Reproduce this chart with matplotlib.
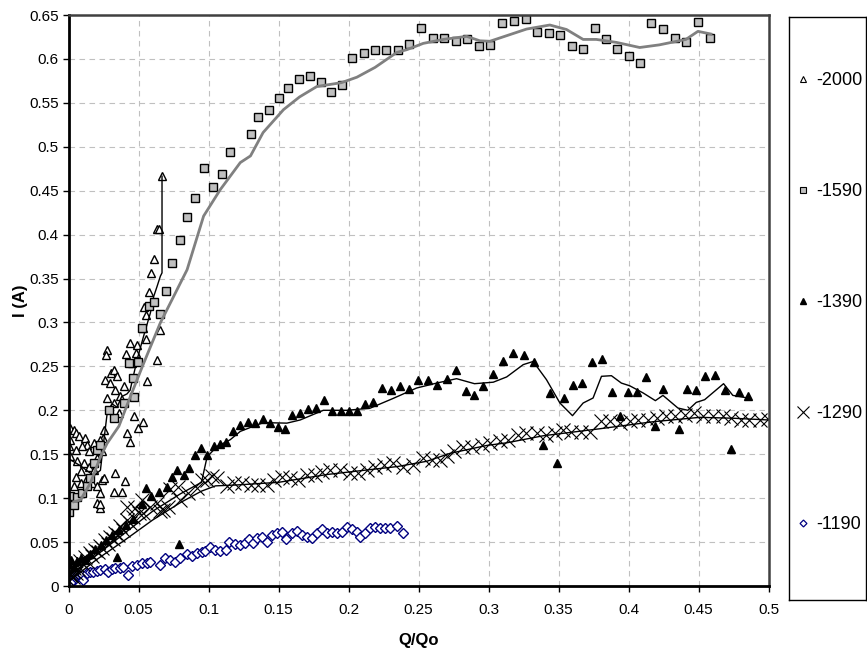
import matplotlib
matplotlib.use("Agg")
import matplotlib.pyplot as plt
from matplotlib.lines import Line2D

plt.rcParams['font.family'] = ['Liberation Sans', 'DejaVu Sans']

# ---------------- data ----------------
# -2000 : open triangles + thin black line
x_2000 = [0.0668, 0.0633, 0.0647, 0.0609, 0.059, 0.0573, 0.0537, 0.055, 0.0533, 0.0556,
          0.0633, 0.0656, 0.0561, 0.049, 0.0442, 0.0414, 0.0454, 0.0483, 0.0276, 0.0269,
          0.030, 0.0323, 0.0347, 0.026, 0.0295, 0.0335, 0.0395, 0.0371, 0.0276, 0.0323,
          0.0359, 0.0466, 0.0533, 0.0494, 0.0418, 0.0442, 0.0335, 0.0407, 0.0323, 0.0383,
          0.0228, 0.020, 0.0228, 0.0223, 0.0252, 0.0247, 0.0228, 0.0014, 0.0038, 0.005,
          0.0014, 0.0074, 0.0121, 0.0133, 0.0098, 0.005, 0.0002, 0.0014, 0.0062, 0.011,
          0.0145, 0.018, 0.0086, 0.005, 0.0133, 0.0169, 0.0086, 0.0038, 0.0205, 0.024,
          0.0205, 0.018, 0.0145, 0.024, 0.0252]
y_2000 = [0.4665, 0.4066, 0.4066, 0.3723, 0.356, 0.3345, 0.3178, 0.3084, 0.2938, 0.2812,
          0.2577, 0.2918, 0.233, 0.2748, 0.2767, 0.2645, 0.254, 0.2653, 0.2689, 0.2634,
          0.2423, 0.2464, 0.2387, 0.235, 0.231, 0.2235, 0.2272, 0.2159, 0.214, 0.2083,
          0.1969, 0.1931, 0.1863, 0.1798, 0.1741, 0.1634, 0.1291, 0.119, 0.1071, 0.1068,
          0.1057, 0.095, 0.0886, 0.0938, 0.1778, 0.1686, 0.1665, 0.1798, 0.1778, 0.1741,
          0.1665, 0.1703, 0.1686, 0.1604, 0.1589, 0.1553, 0.1589, 0.1475, 0.142, 0.1399,
          0.1358, 0.1322, 0.1304, 0.1245, 0.1225, 0.117, 0.117, 0.1133, 0.1133, 0.1208,
          0.1455, 0.1627, 0.1532, 0.1532, 0.1225]
xl_2000 = [0.0, 0.0086, 0.018, 0.0228, 0.025, 0.0276, 0.031, 0.0347, 0.038, 0.0418, 0.044,
           0.049, 0.0537, 0.0585, 0.0609, 0.0633, 0.0656, 0.0668, 0.0668]
yl_2000 = [0.145, 0.1368, 0.1256, 0.1317, 0.1624, 0.1962, 0.2075, 0.2034, 0.2157, 0.2187,
           0.2228, 0.2577, 0.2847, 0.3109, 0.3298, 0.3412, 0.3526, 0.3565, 0.4665]

# -1590 : grey squares + grey line
x_1590 = [0.0002, 0.0014, 0.0038, 0.0062, 0.0098, 0.0133, 0.0157, 0.018, 0.0205, 0.0228,
          0.0323, 0.0288, 0.0395, 0.0466, 0.0461, 0.043, 0.0494, 0.0528, 0.0573, 0.0613,
          0.0656, 0.0699, 0.0742, 0.0794, 0.0849, 0.0906, 0.103, 0.1094, 0.097, 0.1155,
          0.130, 0.1357, 0.1429, 0.150, 0.157, 0.1648, 0.1726, 0.180, 0.1876, 0.195,
          0.2028, 0.211, 0.219, 0.227, 0.235, 0.243, 0.2515, 0.260, 0.2684, 0.2767,
          0.2848, 0.293, 0.301, 0.3098, 0.318, 0.3267, 0.3347, 0.3433, 0.3514, 0.3597,
          0.3676, 0.376, 0.3837, 0.392, 0.400, 0.408, 0.4163, 0.4246, 0.433, 0.441,
          0.4496, 0.458]
y_1590 = [0.0846, 0.102, 0.0924, 0.1018, 0.1057, 0.1133, 0.1225, 0.1399, 0.155, 0.1604,
          0.1908, 0.2003, 0.2083, 0.2157, 0.2369, 0.254, 0.255, 0.2935, 0.319, 0.3232,
          0.3099, 0.3355, 0.368, 0.3938, 0.42, 0.442, 0.4543, 0.4686, 0.4763, 0.494,
          0.5147, 0.5341, 0.5423, 0.5556, 0.567, 0.5766, 0.5802, 0.5736, 0.5628, 0.570,
          0.6007, 0.6073, 0.6099, 0.6099, 0.6099, 0.617, 0.635, 0.6243, 0.6237, 0.620,
          0.6222, 0.615, 0.616, 0.641, 0.6437, 0.6457, 0.6309, 0.629, 0.6268, 0.6146,
          0.6109, 0.6348, 0.6232, 0.6115, 0.6037, 0.5952, 0.6406, 0.6335, 0.6243, 0.6191,
          0.6416, 0.6243]
xl_1590 = [0.0038, 0.0086, 0.0157, 0.0228, 0.0276, 0.036, 0.0442, 0.0537, 0.0656, 0.0763,
           0.0847, 0.0965, 0.1084, 0.1227, 0.130, 0.139, 0.1536, 0.165, 0.1774, 0.195,
           0.206, 0.219, 0.2344, 0.2416, 0.2534, 0.2677, 0.2844, 0.2939, 0.301, 0.3272,
           0.3438, 0.3557, 0.3676, 0.377, 0.3914, 0.408, 0.422, 0.441, 0.4496, 0.459]
yl_1590 = [0.0959, 0.098, 0.1174, 0.147, 0.1624, 0.1819, 0.2157, 0.2536, 0.2996, 0.3334,
           0.36, 0.4211, 0.4512, 0.482, 0.4896, 0.5162, 0.5423, 0.5567, 0.5686, 0.573,
           0.5792, 0.5904, 0.6073, 0.6105, 0.6177, 0.6222, 0.6257, 0.6206, 0.6201, 0.634,
           0.6386, 0.6335, 0.6222, 0.6222, 0.6188, 0.613, 0.616, 0.6222, 0.6314, 0.6283]

# -1390 : filled triangles + thin black line
x_1390 = [0.0, 0.002, 0.004, 0.006, 0.009, 0.012, 0.015, 0.019, 0.023, 0.027,
          0.031, 0.036, 0.041, 0.046, 0.0349, 0.0789, 0.0523, 0.0556, 0.059, 0.0644,
          0.0704, 0.074, 0.0775, 0.0827, 0.0858, 0.0906, 0.0947, 0.099, 0.1036, 0.1084,
          0.1127, 0.1175, 0.1227, 0.1279, 0.1332, 0.1386, 0.1441, 0.1493, 0.1548, 0.1598,
          0.1655, 0.1712, 0.1769, 0.1828, 0.1885, 0.1945, 0.200, 0.206, 0.2118, 0.2178,
          0.224, 0.2304, 0.2368, 0.243, 0.2499, 0.2566, 0.263, 0.270, 0.2767, 0.2839,
          0.2898, 0.2962, 0.303, 0.310, 0.3172, 0.3252, 0.3324, 0.3386, 0.3438, 0.349,
          0.354, 0.3604, 0.3668, 0.3738, 0.381, 0.388, 0.3937, 0.3997, 0.4063, 0.4128,
          0.4187, 0.4246, 0.436, 0.4417, 0.448, 0.4544, 0.4615, 0.4686, 0.4734, 0.4788,
          0.4852]
y_1390 = [0.025, 0.03, 0.022, 0.028, 0.032, 0.03, 0.036, 0.042, 0.047, 0.052,
          0.058, 0.064, 0.07, 0.076, 0.0327, 0.0475, 0.0935, 0.1114, 0.1026, 0.1068,
          0.1126, 0.124, 0.1322, 0.1262, 0.1342, 0.1491, 0.157, 0.1491, 0.1594, 0.1614,
          0.1634, 0.1768, 0.1836, 0.1866, 0.1855, 0.1901, 0.1855, 0.1809, 0.1787, 0.1946,
          0.1975, 0.2013, 0.2026, 0.2113, 0.1988, 0.1988, 0.1988, 0.1988, 0.2075, 0.2095,
          0.2254, 0.2226, 0.2272, 0.2243, 0.2349, 0.2349, 0.2284, 0.2356, 0.2455, 0.2223,
          0.2177, 0.2272, 0.2417, 0.2566, 0.2653, 0.2634, 0.2546, 0.1604, 0.2198, 0.1399,
          0.214, 0.2292, 0.231, 0.2551, 0.2585, 0.2204, 0.193, 0.2204, 0.2204, 0.2375,
          0.1817, 0.2243, 0.1787, 0.2243, 0.2235, 0.2387, 0.2406, 0.2227, 0.1563, 0.2208,
          0.2159]
xl_1390 = [0.0, 0.02, 0.04, 0.06, 0.08, 0.095, 0.0965, 0.099, 0.106, 0.1155, 0.1227,
           0.1322, 0.1393, 0.156, 0.1655, 0.182, 0.1988, 0.2154, 0.232, 0.2487, 0.263,
           0.2772, 0.290, 0.3034, 0.313, 0.3248, 0.3319, 0.3414, 0.351, 0.360, 0.3676,
           0.3747, 0.3807, 0.3878, 0.3949, 0.4009, 0.4104, 0.4192, 0.4246, 0.4353, 0.4424,
           0.4484, 0.4544, 0.4679, 0.4745, 0.4852]
yl_1390 = [0.012, 0.035, 0.06, 0.085, 0.105, 0.118, 0.129, 0.147, 0.1588, 0.1665, 0.176,
           0.1819, 0.186, 0.1854, 0.189, 0.2, 0.2, 0.2024, 0.2136, 0.2254, 0.231,
           0.236, 0.2303, 0.232, 0.238, 0.252, 0.2556, 0.2349, 0.2083, 0.1939, 0.2083,
           0.214, 0.2387, 0.2394, 0.231, 0.2279, 0.2198, 0.211, 0.217, 0.2026, 0.2,
           0.209, 0.2121, 0.2303, 0.217, 0.214]

# -1290 : crosses + thin black line
x_1290 = [0.0, 0.001, 0.002, 0.003, 0.004, 0.005, 0.006, 0.007, 0.008, 0.010,
          0.012, 0.013, 0.015, 0.017, 0.019, 0.021, 0.0225, 0.024, 0.026, 0.028,
          0.0296, 0.032, 0.0332, 0.035, 0.0368, 0.039, 0.0416, 0.0419, 0.044, 0.0463,
          0.0475, 0.050, 0.0526, 0.0535, 0.0582, 0.063, 0.0654, 0.0677, 0.0713, 0.0725,
          0.0784, 0.0796, 0.0856, 0.0916, 0.0951, 0.099, 0.1023, 0.106, 0.113, 0.118,
          0.124, 0.130, 0.1357, 0.1416, 0.1465, 0.1524, 0.158, 0.164, 0.170, 0.176,
          0.181, 0.187, 0.194, 0.201, 0.207, 0.213, 0.219, 0.225, 0.232, 0.239,
          0.246, 0.2534, 0.2594, 0.2653, 0.270, 0.275, 0.282, 0.288, 0.295, 0.301,
          0.308, 0.314, 0.321, 0.327, 0.3343, 0.3414, 0.3474, 0.3533, 0.359, 0.3664,
          0.3723, 0.3807, 0.3866, 0.394, 0.4009, 0.4068, 0.414, 0.420, 0.427, 0.433,
          0.440, 0.447, 0.453, 0.460, 0.4674, 0.4734, 0.480, 0.4864, 0.4936, 0.4995]
y_1290 = [0.006, 0.012, 0.016, 0.010, 0.020, 0.015, 0.024, 0.019, 0.028, 0.025,
          0.033, 0.029, 0.037, 0.034, 0.041, 0.039, 0.045, 0.043, 0.052, 0.048,
          0.056, 0.054, 0.060, 0.058, 0.068, 0.064, 0.075, 0.090, 0.072, 0.079,
          0.089, 0.083, 0.098, 0.083, 0.090, 0.094, 0.085, 0.087, 0.090, 0.110,
          0.113, 0.098, 0.106, 0.111, 0.121, 0.1208, 0.125, 0.1225, 0.1133, 0.1171,
          0.1171, 0.1153, 0.1153, 0.1153, 0.1204, 0.1245, 0.1225, 0.1204, 0.1266, 0.1266,
          0.130, 0.1322, 0.1322, 0.1286, 0.1286, 0.1322, 0.1358, 0.1378, 0.1399, 0.1358,
          0.1378, 0.1455, 0.1437, 0.1437, 0.148, 0.1532, 0.1588, 0.1581, 0.1604, 0.1624,
          0.1645, 0.1665, 0.1722, 0.1741, 0.1741, 0.1722, 0.1741, 0.1778, 0.1757, 0.1757,
          0.1757, 0.1873, 0.1873, 0.186, 0.1873, 0.189, 0.189, 0.191, 0.1931, 0.1931,
          0.1952, 0.1969, 0.1931, 0.1931, 0.1931, 0.191, 0.189, 0.189, 0.189, 0.190]
xl_1290 = [0.0, 0.02, 0.04, 0.06, 0.08, 0.095, 0.105, 0.12, 0.15, 0.185, 0.235, 0.256,
           0.2725, 0.2987, 0.313, 0.339, 0.3795, 0.4175, 0.451, 0.4745, 0.5]
yl_1290 = [0.005, 0.03, 0.052, 0.075, 0.095, 0.108, 0.114, 0.115, 0.118, 0.127, 0.136,
           0.142, 0.151, 0.16, 0.163, 0.171, 0.179, 0.187, 0.192, 0.191, 0.189]

# -1190 : open blue diamonds
x_1190 = [0.0, 0.0005, 0.001, 0.0015, 0.002, 0.003, 0.004, 0.005, 0.006, 0.007,
          0.0094, 0.0106, 0.013, 0.0154, 0.0177, 0.0201, 0.0225, 0.0261, 0.0284, 0.0309,
          0.0332, 0.0368, 0.0391, 0.0427, 0.0451, 0.0487, 0.0523, 0.0559, 0.0582, 0.0654,
          0.069, 0.0725, 0.076, 0.0796, 0.0844, 0.088, 0.0916, 0.0951, 0.0975, 0.101,
          0.1046, 0.1082, 0.1125, 0.1149, 0.119, 0.1225, 0.126, 0.129, 0.132, 0.1344,
          0.138, 0.142, 0.1451, 0.1487, 0.1523, 0.1553, 0.1594, 0.163, 0.1665, 0.170,
          0.1737, 0.1773, 0.1808, 0.1844, 0.188, 0.1916, 0.1951, 0.1987, 0.2023, 0.2059,
          0.2082, 0.2118, 0.2154, 0.219, 0.2225, 0.2261, 0.2296, 0.2344, 0.2391]
y_1190 = [0.001, 0.004, 0.008, 0.003, 0.011, 0.007, 0.013, 0.009, 0.0125, 0.0137,
          0.0125, 0.0068, 0.0152, 0.0163, 0.0163, 0.0175, 0.0182, 0.019, 0.0163, 0.019,
          0.0202, 0.0202, 0.022, 0.0125, 0.0232, 0.024, 0.0266, 0.0266, 0.0277, 0.024,
          0.0316, 0.0296, 0.0277, 0.0316, 0.0365, 0.0342, 0.0373, 0.0384, 0.040, 0.044,
          0.041, 0.040, 0.041, 0.0505, 0.048, 0.0467, 0.0487, 0.0532, 0.0487, 0.0544,
          0.0562, 0.0505, 0.0582, 0.0608, 0.0619, 0.0532, 0.0608, 0.063, 0.0582, 0.0562,
          0.0551, 0.0608, 0.0646, 0.0608, 0.0619, 0.0608, 0.0619, 0.0676, 0.0646, 0.0619,
          0.0562, 0.060, 0.0658, 0.0676, 0.0658, 0.0658, 0.0658, 0.0684, 0.060]

labels = ['-2000', '-1590', '-1390', '-1290', '-1190']
x_ticks = [0, 0.05, 0.1, 0.15, 0.2, 0.25, 0.3, 0.35, 0.4, 0.45, 0.5]
x_ticklabels = ['0', '0.05', '0.1', '0.15', '0.2', '0.25', '0.3', '0.35', '0.4', '0.45', '0.5']
y_ticks = [0, 0.05, 0.1, 0.15, 0.2, 0.25, 0.3, 0.35, 0.4, 0.45, 0.5, 0.55, 0.6, 0.65]
y_ticklabels = ['0', '0.05', '0.1', '0.15', '0.2', '0.25', '0.3', '0.35', '0.4', '0.45',
                '0.5', '0.55', '0.6', '0.65']

NAVY = '#000080'
GREY = '#808080'

# ---------------- figure ----------------
fig = plt.figure(figsize=(8.67, 6.55), dpi=100)
ax = fig.add_axes([68.5/867, 1 - 586/655, 700/867, 571/655])

ax.plot(x_1190, y_1190, ls='none', marker='D', ms=5, mfc='white', mec=NAVY, mew=1)
ax.plot(x_1290, y_1290, ls='none', marker='x', ms=10.5, mec='black', mew=0.8)
ax.plot(xl_1290, yl_1290, color='black', lw=1)
ax.plot(x_1390, y_1390, ls='none', marker='^', ms=6, mfc='black', mec='black')
ax.plot(xl_1390, yl_1390, color='black', lw=1)
ax.plot(x_2000, y_2000, ls='none', marker='^', ms=6, mfc='white', mec='black', mew=1)
ax.plot(xl_2000, yl_2000, color='black', lw=1)
ax.plot(x_1590, y_1590, ls='none', marker='s', ms=5.5, mfc='#c0c0c0', mec='black', mew=1)
ax.plot(xl_1590, yl_1590, color=GREY, lw=2)

ax.set_xlim(0, 0.5)
ax.set_ylim(0, 0.65)
ax.set_xticks(x_ticks)
ax.set_xticklabels(x_ticklabels)
ax.set_yticks(y_ticks)
ax.set_yticklabels(y_ticklabels)
ax.tick_params(labelsize=11, direction='out', length=4, width=1, pad=8)
ax.tick_params(axis='y', pad=3)
ax.grid(True, ls=(0, (5, 4)), color='#c0c0c0', lw=0.8)
ax.set_axisbelow(True)
for side in ['left', 'bottom']:
    ax.spines[side].set_linewidth(2)
    ax.spines[side].set_color('black')
for side in ['top', 'right']:
    ax.spines[side].set_linewidth(1.8)
    ax.spines[side].set_color('#404040')

ax.set_xlabel('Q/Qo', fontsize=12, fontweight='bold', labelpad=12)
ax.set_ylabel('I (A)', fontsize=12, fontweight='bold', va='center')
ax.yaxis.set_label_coords(-0.069, 0.5)

# legend box on the right
lax = fig.add_axes([789/867, 1 - 600/655, 77/867, 583/655])
lax.set_xticks([])
lax.set_yticks([])
for s in lax.spines.values():
    s.set_linewidth(1)
    s.set_color('black')
handles = [
    Line2D([], [], ls='none', marker='^', ms=4, mfc='white', mec='black', mew=0.8),
    Line2D([], [], ls='none', marker='s', ms=4, mfc='#c0c0c0', mec='black', mew=0.8),
    Line2D([], [], ls='none', marker='^', ms=4.5, mfc='black', mec='black'),
    Line2D([], [], ls='none', marker='x', ms=8, mec='black', mew=0.8),
    Line2D([], [], ls='none', marker='D', ms=3.5, mfc='white', mec=NAVY, mew=0.9),
]
lax.legend(handles, labels, loc='center left', frameon=False, fontsize=13,
           labelspacing=5.2, handlelength=0.8, handletextpad=0.3, borderaxespad=0.0,
           bbox_to_anchor=(0.0, 0.51))

fig.savefig('out.png', dpi=100)
